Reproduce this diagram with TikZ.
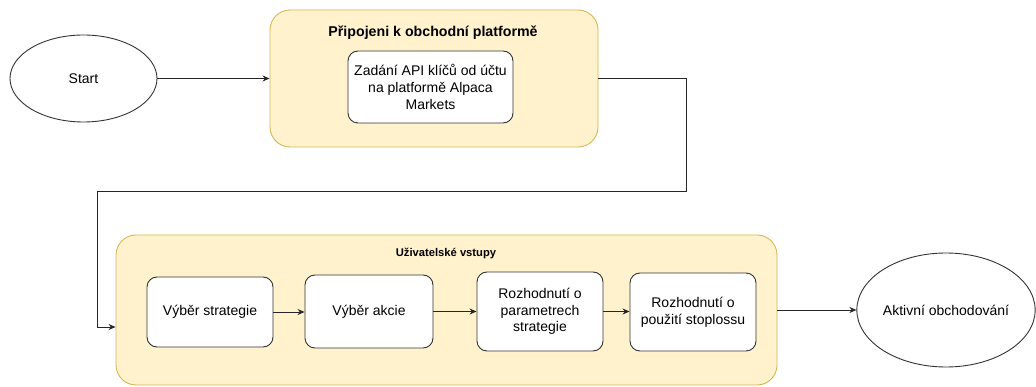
\documentclass[tikz,border=0pt]{standalone}
\usepackage{fontspec}
\setmainfont{Liberation Sans}
\usetikzlibrary{arrows.meta,shapes.geometric}
\definecolor{contfill}{HTML}{FFF2CC}
\definecolor{contdraw}{HTML}{D6B656}
\definecolor{linec}{HTML}{333333}
\begin{document}
\begin{tikzpicture}[x=1pt,y=-1pt,
  container/.style={draw=contdraw,fill=contfill,line width=0.9pt,rounded corners=20pt,inner sep=0pt},
  procbox/.style={draw=linec,fill=white,line width=0.9pt,rounded corners=10pt,inner sep=2pt,align=center,font=\fontsize{14}{16.6}\selectfont,text=black},
  oval/.style={draw=linec,fill=white,ellipse,line width=0.9pt,inner sep=0pt,font=\fontsize{14}{16.6}\selectfont},
  arr/.style={draw=black!85,line width=0.9pt,-{Stealth[length=7pt,width=6pt]}},
  ttl/.style={font=\bfseries\fontsize{14.2}{16}\selectfont,inner sep=0pt}
]
\useasboundingbox (0,0) rectangle (1036,387);
% containers
\node[container,minimum width=328pt,minimum height=137pt] (top) at (434,78.5) {};
\node[container,minimum width=661pt,minimum height=150pt] (low) at (446.5,310) {};
\node[ttl] (toptitle) at (433,33) {Připojeni k obchodní platformě};
\node[ttl,font=\bfseries\fontsize{11.2}{13}\selectfont] (lowtitle) at (446,253) {Uživatelské vstupy};
% start / end
\node[oval,minimum width=147pt,minimum height=87pt] (start) at (83.5,78.5) {Start};
\node[oval,minimum width=174pt,minimum height=114pt] (act) at (946,310) {Aktivní obchodování};
% boxes
\node[procbox,minimum width=165pt,minimum height=72pt] (api) at (430.5,87) {Zadání API klíčů od účtu\\na platformě Alpaca\\Markets};
\node[procbox,minimum width=126pt,minimum height=70pt] (b1) at (210,312) {Výběr strategie};
\node[procbox,minimum width=128pt,minimum height=73pt] (b2) at (369,311.5) {Výběr akcie};
\node[procbox,minimum width=126pt,minimum height=79pt] (b3) at (540,311.5) {Rozhodnutí o\\parametrech\\strategie};
\node[procbox,minimum width=126pt,minimum height=78pt] (b4) at (693,312) {Rozhodnutí o\\použití stoplossu};
% connectors
\coordinate (c1) at (686,191);
\coordinate (c2) at (97,191);
\draw[arr] (start.east) -- (top.west);
\draw[arr] (top.east) -| (c1) -- (c2) |- ([yshift=-17pt]low.west);
\draw[arr] (b1.east) -- (b1.east -| b2.west);
\draw[arr] (b2.east) -- (b2.east -| b3.west);
\draw[arr] (b3.east) -- (b3.east -| b4.west);
\draw[arr] (low.east) -- (low.east -| act.west);
\end{tikzpicture}
\end{document}
